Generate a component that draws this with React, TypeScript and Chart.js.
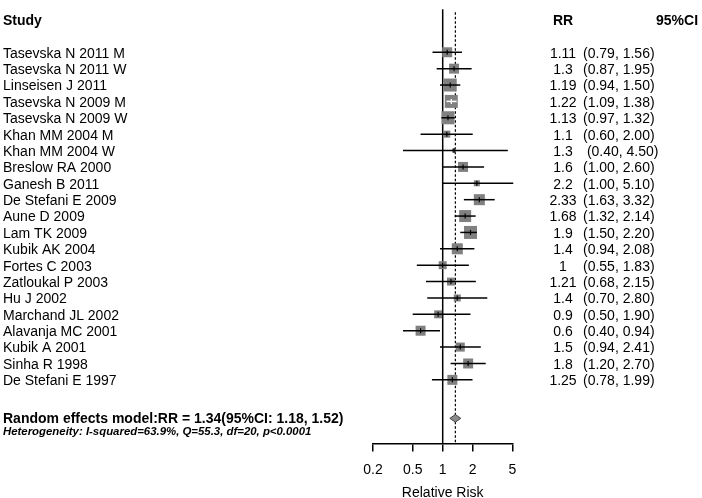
import React, { useEffect, useRef } from "react";
import { Chart, registerables } from "chart.js";

Chart.register(...registerables);

const studies = [
  "Tasevska N 2011 M",
  "Tasevska N 2011 W",
  "Linseisen J 2011",
  "Tasevska N 2009 M",
  "Tasevska N 2009 W",
  "Khan MM 2004 M",
  "Khan MM 2004 W",
  "Breslow RA 2000",
  "Ganesh B 2011",
  "De Stefani E 2009",
  "Aune D 2009",
  "Lam TK 2009",
  "Kubik AK 2004",
  "Fortes C 2003",
  "Zatloukal P 2003",
  "Hu J 2002",
  "Marchand JL 2002",
  "Alavanja MC 2001",
  "Kubik A 2001",
  "Sinha R 1998",
  "De Stefani E 1997",
];
const rr = [1.11, 1.3, 1.19, 1.22, 1.13, 1.1, 1.3, 1.6, 2.2, 2.33, 1.68, 1.9, 1.4, 1, 1.21, 1.4, 0.9, 0.6, 1.5, 1.8, 1.25];
const lower = [0.79, 0.87, 0.94, 1.09, 0.97, 0.6, 0.4, 1.0, 1.0, 1.63, 1.32, 1.5, 0.94, 0.55, 0.68, 0.7, 0.5, 0.4, 0.94, 1.2, 0.78];
const upper = [1.56, 1.95, 1.5, 1.38, 1.32, 2.0, 4.5, 2.6, 5.1, 3.32, 2.14, 2.2, 2.08, 1.83, 2.15, 2.8, 1.9, 0.94, 2.41, 2.7, 1.99];
const rrLabels = ["1.11", "1.3", "1.19", "1.22", "1.13", "1.1", "1.3", "1.6", "2.2", "2.33", "1.68", "1.9", "1.4", "1", "1.21", "1.4", "0.9", "0.6", "1.5", "1.8", "1.25"];
const ciLabels = [
  "(0.79, 1.56)", "(0.87, 1.95)", "(0.94, 1.50)", "(1.09, 1.38)", "(0.97, 1.32)",
  "(0.60, 2.00)", " (0.40, 4.50)", "(1.00, 2.60)", "(1.00, 5.10)", "(1.63, 3.32)",
  "(1.32, 2.14)", "(1.50, 2.20)", "(0.94, 2.08)", "(0.55, 1.83)", "(0.68, 2.15)",
  "(0.70, 2.80)", "(0.50, 1.90)", "(0.40, 0.94)", "(0.94, 2.41)", "(1.20, 2.70)",
  "(0.78, 1.99)",
];
// study weights (%), box area proportional to weight
const weights = [5.5, 5.5, 9.3, 9.3, 9.4, 2.7, 0.9, 5.5, 2.0, 6.7, 7.9, 9.3, 6.7, 3.5, 3.5, 2.7, 3.5, 5.5, 4.5, 5.5, 5.5];
const pooledRR = 1.34;
const pooledLower = 1.18;
const pooledUpper = 1.52;
const xTicks = [0.2, 0.5, 1, 2, 5];
const xTickLabels = ["0.2", "0.5", "1", "2", "5"];
const headerStudy = "Study";
const headerRR = "RR";
const headerCI = "95%CI";
const summaryText = "Random effects model:RR = 1.34(95%CI: 1.18, 1.52)";
const heterogeneityText = "Heterogeneity: I-squared=63.9%, Q=55.3, df=20, p<0.0001";
const axisTitle = "Relative Risk";

const FONT = '"Liberation Sans", Arial, sans-serif';
const ROW_MIN = -2.627;
const ROW_MAX = 23.88;
const HEADER_ROW = -1.93;
const POOLED_ROW = 22.35;
const HET_ROW = 23.1;

const boxSide = (w: number) => 4.26 * Math.sqrt(w);

const forestPlugin = {
  id: "forest",
  beforeDatasetsDraw(chart: any) {
    const { ctx, scales, chartArea } = chart;
    const x = scales.x;
    ctx.save();
    ctx.strokeStyle = "#000";
    ctx.lineWidth = 1.5;
    const x1 = x.getPixelForValue(1);
    ctx.beginPath();
    ctx.moveTo(x1, chartArea.top);
    ctx.lineTo(x1, chartArea.bottom);
    ctx.stroke();
    const xp = x.getPixelForValue(pooledRR);
    ctx.lineWidth = 1.2;
    ctx.setLineDash([2.5, 2]);
    ctx.beginPath();
    ctx.moveTo(xp, chartArea.top + 3);
    ctx.lineTo(xp, chartArea.bottom);
    ctx.stroke();
    ctx.restore();
  },
  afterDatasetsDraw(chart: any) {
    const { ctx, scales } = chart;
    const x = scales.x;
    const y = scales.y;
    ctx.save();
    // CI lines
    for (let i = 0; i < rr.length; i++) {
      const yp = y.getPixelForValue(i);
      const xl = x.getPixelForValue(lower[i]);
      const xu = x.getPixelForValue(upper[i]);
      const xc = x.getPixelForValue(rr[i]);
      const half = boxSide(weights[i]) / 2;
      const inside = xl >= xc - half && xu <= xc + half;
      ctx.strokeStyle = inside ? "#fff" : "#000";
      ctx.lineWidth = 1.5;
      ctx.beginPath();
      ctx.moveTo(xl, yp);
      ctx.lineTo(xu, yp);
      ctx.stroke();
      ctx.lineWidth = 1.2;
      ctx.beginPath();
      ctx.moveTo(xc, yp - 2.5);
      ctx.lineTo(xc, yp + 2.5);
      ctx.stroke();
    }
    // pooled diamond
    const dy = y.getPixelForValue(POOLED_ROW);
    const dl = x.getPixelForValue(pooledLower);
    const du = x.getPixelForValue(pooledUpper);
    const dc = x.getPixelForValue(pooledRR);
    ctx.beginPath();
    ctx.moveTo(dl, dy);
    ctx.lineTo(dc, dy - 3.8);
    ctx.lineTo(du, dy);
    ctx.lineTo(dc, dy + 3.8);
    ctx.closePath();
    ctx.fillStyle = "#8a8a8a";
    ctx.fill();
    ctx.strokeStyle = "#444";
    ctx.lineWidth = 1;
    ctx.stroke();

    // texts
    ctx.fillStyle = "#000";
    ctx.textBaseline = "middle";
    ctx.font = `bold 14px ${FONT}`;
    const hy = y.getPixelForValue(HEADER_ROW);
    ctx.textAlign = "left";
    ctx.fillText(headerStudy, 3, hy);
    ctx.textAlign = "center";
    ctx.fillText(headerRR, 563, hy);
    ctx.textAlign = "left";
    ctx.fillText(headerCI, 656, hy);

    ctx.font = `14px ${FONT}`;
    for (let i = 0; i < studies.length; i++) {
      const ty = y.getPixelForValue(i) + 1.5;
      ctx.textAlign = "left";
      ctx.fillText(studies[i], 3, ty);
      ctx.textAlign = "center";
      ctx.fillText(rrLabels[i], 563, ty);
      ctx.textAlign = "left";
      ctx.fillText(ciLabels[i], 583, ty);
    }
    ctx.font = `bold 14px ${FONT}`;
    ctx.textAlign = "left";
    ctx.fillText(summaryText, 3, y.getPixelForValue(POOLED_ROW) + 1);
    ctx.font = `italic bold 11.4px ${FONT}`;
    ctx.fillText(heterogeneityText, 3, y.getPixelForValue(HET_ROW) + 1);
    ctx.restore();
  },
};

export default function App() {
  const canvasRef = useRef<HTMLCanvasElement | null>(null);

  useEffect(() => {
    document.body.style.margin = "0";
    const canvas = canvasRef.current;
    if (!canvas) return;
    const chart = new Chart(canvas, {
      type: "scatter",
      data: {
        datasets: [
          {
            data: rr.map((v, i) => ({ x: v, y: i })),
            pointStyle: "rect",
            pointRadius: weights.map((w) => boxSide(w) / Math.SQRT2),
            pointHoverRadius: weights.map((w) => boxSide(w) / Math.SQRT2),
            backgroundColor: "#808080",
            borderWidth: 0,
            clip: false as any,
          } as any,
        ],
      },
      options: {
        animation: false,
        responsive: false,
        events: [],
        layout: { padding: { left: 373, right: 189.6, top: 0, bottom: -2 } },
        plugins: {
          legend: { display: false },
          tooltip: { enabled: false },
          title: { display: false },
        },
        scales: {
          x: {
            type: "logarithmic",
            min: 0.2,
            max: 5,
            afterBuildTicks: (scale: any) => {
              scale.ticks = xTicks.map((v) => ({ value: v }));
            },
            ticks: {
              autoSkip: false,
              maxRotation: 0,
              padding: 10,
              color: "#000",
              font: { family: FONT, size: 14 },
              callback: (value: any) => {
                const idx = xTicks.indexOf(Number(value));
                return idx >= 0 ? xTickLabels[idx] : "";
              },
            },
            grid: {
              drawOnChartArea: false,
              drawTicks: true,
              tickLength: 8,
              color: "#000",
              lineWidth: 1.5,
            },
            border: { display: true, color: "#000", width: 1.5 },
            title: {
              display: true,
              text: axisTitle,
              color: "#000",
              font: { family: FONT, size: 14, lineHeight: 1.0 },
              padding: { top: -1.7, bottom: -0.5 },
            },
          } as any,
          y: {
            type: "linear",
            min: ROW_MIN,
            max: ROW_MAX,
            reverse: true,
            display: false,
          },
        },
      },
      plugins: [forestPlugin],
    });
    return () => chart.destroy();
  }, []);

  return (
    <div style={{ position: "absolute", left: 0, top: 0, width: 702, height: 498 }}>
      <canvas ref={canvasRef} width={702} height={498} style={{ display: "block" }} />
    </div>
  );
}
